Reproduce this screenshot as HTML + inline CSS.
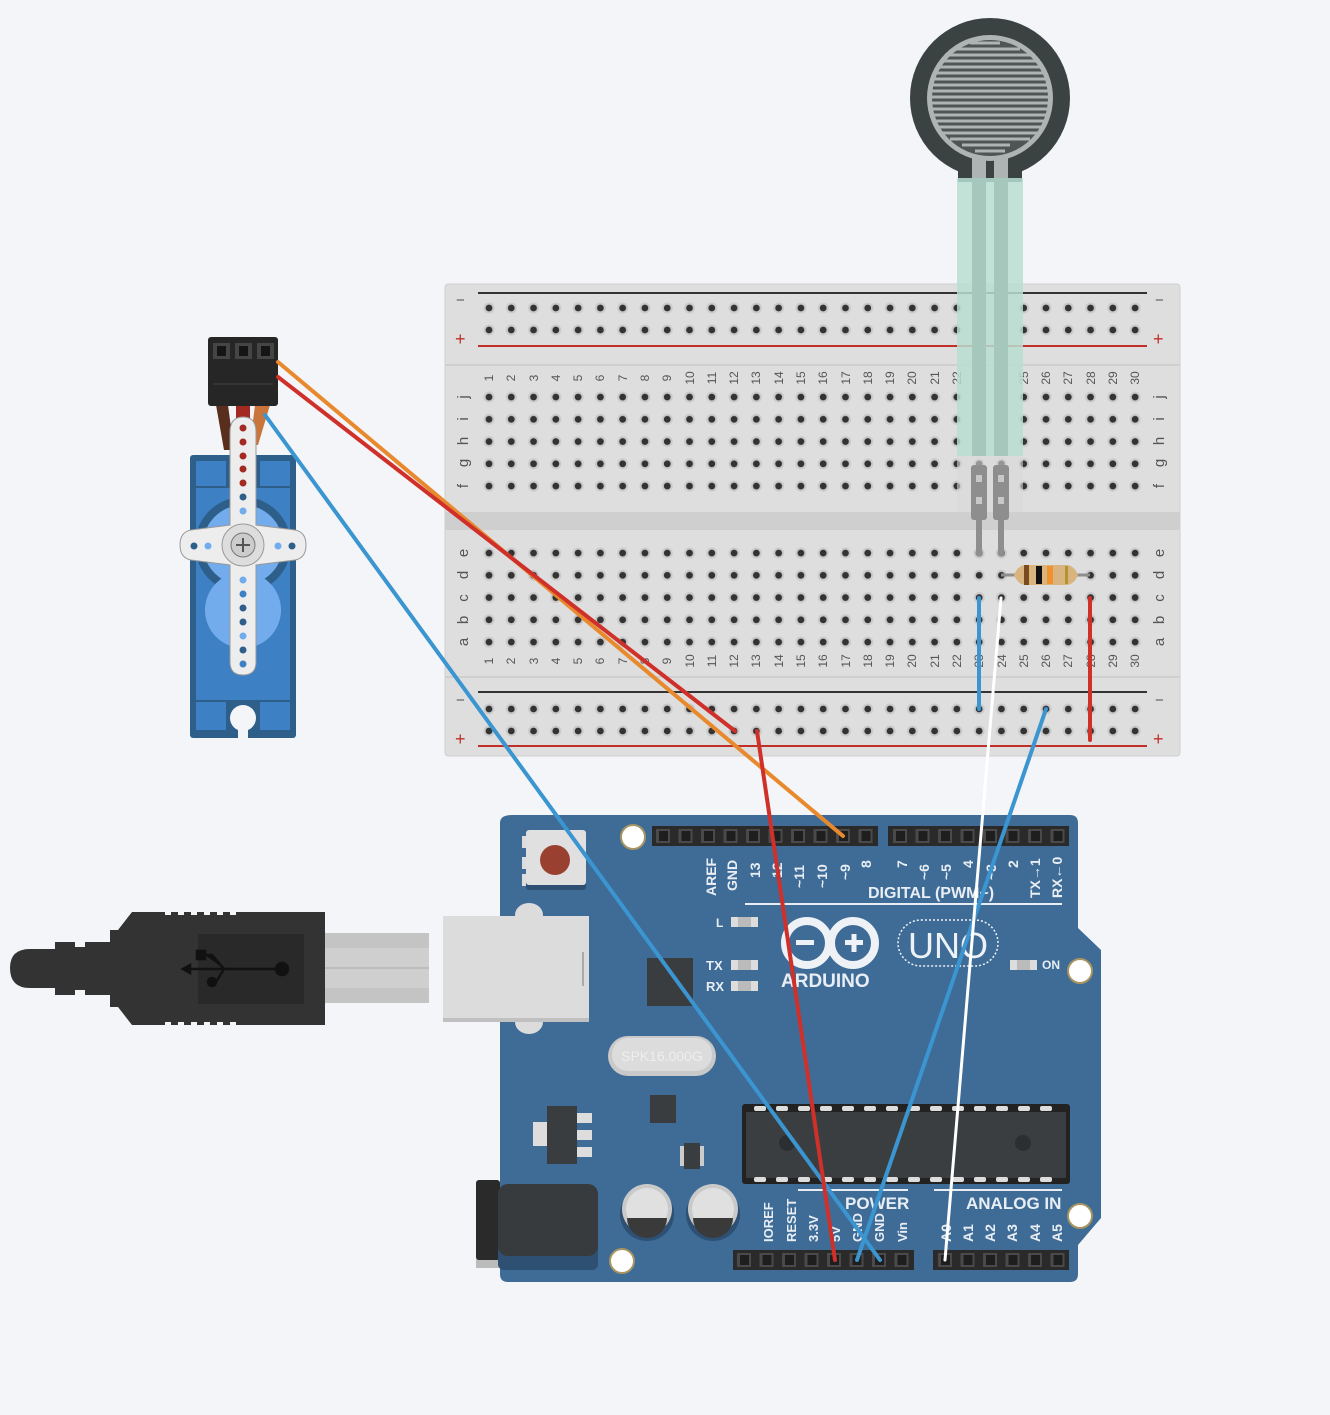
<!DOCTYPE html>
<html><head><meta charset="utf-8"><style>
html,body{margin:0;padding:0;background:#f3f5f8;}
svg{display:block;font-family:"Liberation Sans",sans-serif;}
</style></head><body>
<svg width="1330" height="1415" viewBox="0 0 1330 1415" xmlns="http://www.w3.org/2000/svg">
<defs>
<pattern id="h5" x="477.86" y="386" width="22.28" height="22.25" patternUnits="userSpaceOnUse"><circle cx="11.14" cy="11.1" r="5.5" fill="#cacaca"/><circle cx="11.14" cy="11.1" r="3.4" fill="#333"/></pattern>
<pattern id="h5b" x="477.86" y="542" width="22.28" height="22.25" patternUnits="userSpaceOnUse"><circle cx="11.14" cy="11.1" r="5.5" fill="#cacaca"/><circle cx="11.14" cy="11.1" r="3.4" fill="#333"/></pattern>
<pattern id="hr1" x="477.86" y="297" width="22.28" height="22" patternUnits="userSpaceOnUse"><circle cx="11.14" cy="11" r="5.5" fill="#cacaca"/><circle cx="11.14" cy="11" r="3.4" fill="#333"/></pattern>
<pattern id="hr2" x="477.86" y="698" width="22.28" height="22" patternUnits="userSpaceOnUse"><circle cx="11.14" cy="11" r="5.5" fill="#cacaca"/><circle cx="11.14" cy="11" r="3.4" fill="#333"/></pattern>
<pattern id="pin" x="652" y="826" width="22.5" height="20" patternUnits="userSpaceOnUse"><rect x="4" y="3" width="14" height="14" fill="#4a4a4a"/><rect x="7" y="5" width="9" height="10" fill="#1e1e1e"/></pattern>
<pattern id="pin2" x="889" y="826" width="22.5" height="20" patternUnits="userSpaceOnUse"><rect x="4" y="3" width="14" height="14" fill="#4a4a4a"/><rect x="7" y="5" width="9" height="10" fill="#1e1e1e"/></pattern>
<pattern id="pinb" x="733" y="1250" width="22.5" height="20" patternUnits="userSpaceOnUse"><rect x="4" y="3" width="14" height="14" fill="#4a4a4a"/><rect x="7" y="5" width="9" height="10" fill="#1e1e1e"/></pattern>
<pattern id="pinb2" x="934" y="1250" width="22.5" height="20" patternUnits="userSpaceOnUse"><rect x="4" y="3" width="14" height="14" fill="#4a4a4a"/><rect x="7" y="5" width="9" height="10" fill="#1e1e1e"/></pattern>
</defs>

<!-- Breadboard -->
<rect x="445" y="284" width="735" height="472" rx="3" fill="#dedede" stroke="#d0d0d0"/>
<rect x="445" y="364" width="735" height="2" fill="#cfcfcf"/>
<rect x="445" y="512" width="735" height="18" fill="#cfcfcf"/>
<rect x="445" y="676" width="735" height="2" fill="#cfcfcf"/>
<line x1="478" y1="293" x2="1147" y2="293" stroke="#333" stroke-width="2"/>
<line x1="478" y1="346" x2="1147" y2="346" stroke="#c0302a" stroke-width="2"/>
<line x1="478" y1="692" x2="1147" y2="692" stroke="#333" stroke-width="2"/>
<line x1="478" y1="746" x2="1147" y2="746" stroke="#c0302a" stroke-width="2"/>
<rect x="478" y="297" width="668" height="44" fill="url(#hr1)"/>
<rect x="478" y="698" width="668" height="44" fill="url(#hr2)"/>
<rect x="478" y="386" width="668" height="111" fill="url(#h5)"/>
<rect x="478" y="542" width="668" height="111" fill="url(#h5b)"/>
<g font-size="15" fill="#555"><text x="456" y="305">−</text><text x="1155" y="305">−</text><text x="455" y="345" fill="#c0302a" font-size="18">+</text><text x="1153" y="345" fill="#c0302a" font-size="18">+</text>
<text x="456" y="705">−</text><text x="1155" y="705">−</text><text x="455" y="745" fill="#c0302a" font-size="18">+</text><text x="1153" y="745" fill="#c0302a" font-size="18">+</text></g>
<g font-size="12" fill="#555" text-anchor="middle">
<g>
<text transform="translate(493,378) rotate(-90)">1</text><text transform="translate(515,378) rotate(-90)">2</text><text transform="translate(538,378) rotate(-90)">3</text><text transform="translate(560,378) rotate(-90)">4</text><text transform="translate(582,378) rotate(-90)">5</text><text transform="translate(604,378) rotate(-90)">6</text><text transform="translate(627,378) rotate(-90)">7</text><text transform="translate(649,378) rotate(-90)">8</text><text transform="translate(671,378) rotate(-90)">9</text><text transform="translate(694,378) rotate(-90)">10</text><text transform="translate(716,378) rotate(-90)">11</text><text transform="translate(738,378) rotate(-90)">12</text><text transform="translate(760,378) rotate(-90)">13</text><text transform="translate(783,378) rotate(-90)">14</text><text transform="translate(805,378) rotate(-90)">15</text><text transform="translate(827,378) rotate(-90)">16</text><text transform="translate(850,378) rotate(-90)">17</text><text transform="translate(872,378) rotate(-90)">18</text><text transform="translate(894,378) rotate(-90)">19</text><text transform="translate(916,378) rotate(-90)">20</text><text transform="translate(939,378) rotate(-90)">21</text><text transform="translate(961,378) rotate(-90)">22</text><text transform="translate(983,378) rotate(-90)">23</text><text transform="translate(1006,378) rotate(-90)">24</text><text transform="translate(1028,378) rotate(-90)">25</text><text transform="translate(1050,378) rotate(-90)">26</text><text transform="translate(1072,378) rotate(-90)">27</text><text transform="translate(1095,378) rotate(-90)">28</text><text transform="translate(1117,378) rotate(-90)">29</text><text transform="translate(1139,378) rotate(-90)">30</text>
</g>
<g>
<text transform="translate(493,661) rotate(-90)">1</text><text transform="translate(515,661) rotate(-90)">2</text><text transform="translate(538,661) rotate(-90)">3</text><text transform="translate(560,661) rotate(-90)">4</text><text transform="translate(582,661) rotate(-90)">5</text><text transform="translate(604,661) rotate(-90)">6</text><text transform="translate(627,661) rotate(-90)">7</text><text transform="translate(649,661) rotate(-90)">8</text><text transform="translate(671,661) rotate(-90)">9</text><text transform="translate(694,661) rotate(-90)">10</text><text transform="translate(716,661) rotate(-90)">11</text><text transform="translate(738,661) rotate(-90)">12</text><text transform="translate(760,661) rotate(-90)">13</text><text transform="translate(783,661) rotate(-90)">14</text><text transform="translate(805,661) rotate(-90)">15</text><text transform="translate(827,661) rotate(-90)">16</text><text transform="translate(850,661) rotate(-90)">17</text><text transform="translate(872,661) rotate(-90)">18</text><text transform="translate(894,661) rotate(-90)">19</text><text transform="translate(916,661) rotate(-90)">20</text><text transform="translate(939,661) rotate(-90)">21</text><text transform="translate(961,661) rotate(-90)">22</text><text transform="translate(983,661) rotate(-90)">23</text><text transform="translate(1006,661) rotate(-90)">24</text><text transform="translate(1028,661) rotate(-90)">25</text><text transform="translate(1050,661) rotate(-90)">26</text><text transform="translate(1072,661) rotate(-90)">27</text><text transform="translate(1095,661) rotate(-90)">28</text><text transform="translate(1117,661) rotate(-90)">29</text><text transform="translate(1139,661) rotate(-90)">30</text>
</g>
<g font-size="15">
<text transform="translate(468,397) rotate(-90)">j</text><text transform="translate(468,419) rotate(-90)">i</text><text transform="translate(468,441) rotate(-90)">h</text><text transform="translate(468,463) rotate(-90)">g</text><text transform="translate(468,486) rotate(-90)">f</text>
<text transform="translate(1164,397) rotate(-90)">j</text><text transform="translate(1164,419) rotate(-90)">i</text><text transform="translate(1164,441) rotate(-90)">h</text><text transform="translate(1164,463) rotate(-90)">g</text><text transform="translate(1164,486) rotate(-90)">f</text>
<text transform="translate(468,553) rotate(-90)">e</text><text transform="translate(468,575) rotate(-90)">d</text><text transform="translate(468,598) rotate(-90)">c</text><text transform="translate(468,620) rotate(-90)">b</text><text transform="translate(468,642) rotate(-90)">a</text>
<text transform="translate(1164,553) rotate(-90)">e</text><text transform="translate(1164,575) rotate(-90)">d</text><text transform="translate(1164,598) rotate(-90)">c</text><text transform="translate(1164,620) rotate(-90)">b</text><text transform="translate(1164,642) rotate(-90)">a</text>
</g>
</g>

<!-- FSR -->
<rect x="958" y="140" width="64" height="42" fill="#3a4242"/>
<circle cx="990" cy="98" r="80" fill="#3a4242"/>
<circle cx="990" cy="98" r="63" fill="#aeb3b3"/>
<circle cx="990" cy="98" r="58" fill="#4d5555"/>
<g stroke="#aeb3b3" stroke-width="3">
<line x1="970" y1="43" x2="1000" y2="43"/><line x1="955" y1="49" x2="1020" y2="49"/><line x1="945" y1="55" x2="1035" y2="55"/><line x1="940" y1="61" x2="1040" y2="61"/><line x1="936" y1="67" x2="1044" y2="67"/><line x1="934" y1="73" x2="1046" y2="73"/><line x1="933" y1="79" x2="1047" y2="79"/><line x1="932" y1="85" x2="1048" y2="85"/><line x1="932" y1="91" x2="1048" y2="91"/><line x1="932" y1="97" x2="1048" y2="97"/><line x1="932" y1="103" x2="1048" y2="103"/><line x1="932" y1="109" x2="1048" y2="109"/><line x1="933" y1="115" x2="1047" y2="115"/><line x1="935" y1="121" x2="1045" y2="121"/><line x1="938" y1="127" x2="1042" y2="127"/><line x1="942" y1="133" x2="1038" y2="133"/><line x1="950" y1="139" x2="1030" y2="139"/><line x1="962" y1="145" x2="1010" y2="145"/><line x1="975" y1="151" x2="1005" y2="151"/>
</g>
<rect x="972" y="158" width="14" height="24" fill="#aeb3b3"/><rect x="994" y="158" width="14" height="24" fill="#aeb3b3"/>
<rect x="957" y="178" width="66" height="278" fill="#b9ddd1" opacity="0.85"/>
<rect x="972" y="178" width="14" height="278" fill="#a5c7bc"/><rect x="994" y="178" width="14" height="278" fill="#a5c7bc"/>
<rect x="957" y="456" width="66" height="56" fill="#d8d8d8" opacity="0.6"/>
<rect x="971" y="465" width="16" height="55" rx="3" fill="#8e8e8e"/><rect x="993" y="465" width="16" height="55" rx="3" fill="#8e8e8e"/>
<rect x="976" y="475" width="6" height="7" fill="#c8c8c8"/><rect x="976" y="497" width="6" height="7" fill="#c8c8c8"/>
<rect x="998" y="475" width="6" height="7" fill="#c8c8c8"/><rect x="998" y="497" width="6" height="7" fill="#c8c8c8"/>
<rect x="976" y="518" width="6" height="35" fill="#8e8e8e"/><rect x="998" y="518" width="6" height="35" fill="#8e8e8e"/>
<circle cx="979" cy="553" r="3.5" fill="#8e8e8e"/><circle cx="1001" cy="553" r="3.5" fill="#8e8e8e"/>

<!-- resistor -->
<line x1="1001" y1="575" x2="1090" y2="575" stroke="#8e8e8e" stroke-width="3"/>
<path d="M1014 575 Q1018 565 1026 565 L1066 565 Q1074 565 1078 575 Q1074 585 1066 585 L1026 585 Q1018 585 1014 575Z" fill="#d9b47f"/>
<rect x="1024" y="565" width="5" height="20" fill="#7b4a1e"/><rect x="1036" y="566" width="6" height="18" fill="#111"/><rect x="1047" y="566" width="6" height="18" fill="#f0922e"/><rect x="1065" y="566" width="3" height="18" fill="#b09530"/>

<!-- short wires -->
<line x1="979" y1="598" x2="979" y2="709" stroke="#3a95d0" stroke-width="4" stroke-linecap="round"/>
<line x1="1090" y1="598" x2="1090" y2="740" stroke="#d0302a" stroke-width="4" stroke-linecap="round"/>

<!-- Arduino -->
<path d="M512 815 L1070 815 Q1078 815 1078 823 L1078 928 L1101 950 L1101 1218 L1078 1245 L1078 1274 Q1078 1282 1070 1282 L508 1282 Q500 1282 500 1274 L500 823 Q500 815 512 815Z" fill="#3f6c97"/>
<rect x="652" y="826" width="226" height="20" fill="#2a2a2a"/><rect x="652" y="826" width="226" height="20" fill="url(#pin)"/>
<rect x="888" y="826" width="181" height="20" fill="#2a2a2a"/><rect x="888" y="826" width="181" height="20" fill="url(#pin2)"/>
<rect x="733" y="1250" width="181" height="20" fill="#2a2a2a"/><rect x="733" y="1250" width="181" height="20" fill="url(#pinb)"/>
<rect x="933" y="1250" width="136" height="20" fill="#2a2a2a"/><rect x="933" y="1250" width="136" height="20" fill="url(#pinb2)"/>
<g fill="#fff" stroke="#a89460" stroke-width="2"><circle cx="633" cy="837" r="12"/><circle cx="1080" cy="971" r="12"/><circle cx="1080" cy="1216" r="12"/><circle cx="622" cy="1261" r="12"/></g>
<!-- reset button -->
<rect x="522" y="836" width="8" height="12" fill="#ddd"/><rect x="522" y="857" width="8" height="12" fill="#ddd"/><rect x="522" y="874" width="8" height="12" fill="#ddd"/>
<rect x="578" y="836" width="8" height="12" fill="#ddd"/><rect x="578" y="874" width="8" height="12" fill="#ddd"/>
<rect x="526" y="830" width="60" height="60" rx="3" fill="#2e5073"/>
<rect x="526" y="830" width="60" height="55" rx="3" fill="#e0e0e0"/>
<circle cx="555" cy="860" r="15" fill="#9a4030"/>
<!-- pin labels -->
<g fill="#e8eef4" font-size="14" font-weight="bold" text-anchor="start">
<text transform="translate(716,896) rotate(-90)">AREF</text><text transform="translate(737,891) rotate(-90)">GND</text><text transform="translate(760,878) rotate(-90)">13</text><text transform="translate(782,878) rotate(-90)">12</text><text transform="translate(804,888) rotate(-90)">~11</text><text transform="translate(827,888) rotate(-90)">~10</text><text transform="translate(850,880) rotate(-90)">~9</text><text transform="translate(871,868) rotate(-90)">8</text>
<text transform="translate(907,868) rotate(-90)">7</text><text transform="translate(929,880) rotate(-90)">~6</text><text transform="translate(951,880) rotate(-90)">~5</text><text transform="translate(973,868) rotate(-90)">4</text><text transform="translate(996,880) rotate(-90)">~3</text><text transform="translate(1018,868) rotate(-90)">2</text><text transform="translate(1040,898) rotate(-90)">TX→1</text><text transform="translate(1062,898) rotate(-90)">RX←0</text>
<text x="868" y="898" font-size="16">DIGITAL (PWM~)</text>
<text transform="translate(773,1242) rotate(-90)" font-size="13">IOREF</text><text transform="translate(796,1242) rotate(-90)" font-size="13">RESET</text><text transform="translate(818,1242) rotate(-90)" font-size="13">3.3V</text><text transform="translate(840,1242) rotate(-90)" font-size="13">5V</text><text transform="translate(862,1242) rotate(-90)" font-size="13">GND</text><text transform="translate(884,1242) rotate(-90)" font-size="13">GND</text><text transform="translate(907,1242) rotate(-90)" font-size="13">Vin</text>
<text transform="translate(951,1242) rotate(-90)">A0</text><text transform="translate(973,1242) rotate(-90)">A1</text><text transform="translate(995,1242) rotate(-90)">A2</text><text transform="translate(1017,1242) rotate(-90)">A3</text><text transform="translate(1040,1242) rotate(-90)">A4</text><text transform="translate(1062,1242) rotate(-90)">A5</text>
<text x="845" y="1209" font-size="17">POWER</text><text x="966" y="1209" font-size="17">ANALOG IN</text>
<text x="716" y="927" font-size="12">L</text><text x="706" y="970" font-size="13">TX</text><text x="706" y="991" font-size="13">RX</text><text x="1042" y="969" font-size="12">ON</text>
<text x="781" y="987" font-size="19">ARDUINO</text>
</g>
<line x1="745" y1="904" x2="1062" y2="904" stroke="#e8eef4" stroke-width="2"/>
<line x1="798" y1="1190" x2="908" y2="1190" stroke="#e8eef4" stroke-width="2"/>
<line x1="934" y1="1190" x2="1062" y2="1190" stroke="#e8eef4" stroke-width="2"/>
<g><rect x="731" y="917" width="27" height="10" fill="#ddd"/><rect x="738" y="917" width="13" height="10" fill="#bbb"/>
<rect x="731" y="960" width="27" height="10" fill="#ddd"/><rect x="738" y="960" width="13" height="10" fill="#bbb"/>
<rect x="731" y="981" width="27" height="10" fill="#ddd"/><rect x="738" y="981" width="13" height="10" fill="#bbb"/>
<rect x="1010" y="960" width="27" height="10" fill="#ddd"/><rect x="1017" y="960" width="13" height="10" fill="#bbb"/></g>
<!-- logo -->
<g fill="none" stroke="#eef2f6" stroke-width="8"><circle cx="807" cy="943" r="22"/><circle cx="853" cy="943" r="22"/></g>
<rect x="796" y="940" width="18" height="5" fill="#eef2f6"/><rect x="845" y="940" width="18" height="5" fill="#eef2f6"/><rect x="851.5" y="934" width="5" height="18" fill="#eef2f6"/>
<rect x="898" y="920" width="100" height="46" rx="23" fill="none" stroke="#eef2f6" stroke-width="1.5" stroke-dasharray="2 2"/>
<text x="948" y="958" text-anchor="middle" fill="#eef2f6" font-size="36">UNO</text>
<!-- chips -->
<rect x="647" y="958" width="46" height="48" fill="#3a3d40"/>
<rect x="650" y="1095" width="26" height="28" fill="#3a3d40"/>
<rect x="680" y="1146" width="4" height="20" fill="#ccc"/><rect x="700" y="1146" width="4" height="20" fill="#ccc"/><rect x="684" y="1143" width="16" height="26" fill="#3a3d40"/>
<rect x="533" y="1122" width="16" height="24" fill="#ddd"/><rect x="577" y="1113" width="15" height="10" fill="#ddd"/><rect x="577" y="1130" width="15" height="10" fill="#ddd"/><rect x="577" y="1147" width="15" height="10" fill="#ddd"/><rect x="547" y="1106" width="30" height="58" fill="#3a3d40"/>
<rect x="742" y="1104" width="328" height="80" rx="3" fill="#222"/><rect x="746" y="1112" width="320" height="66" fill="#3b3e41"/>
<g fill="#ddd"><rect x="754" y="1106" width="12" height="5" rx="2"/><rect x="776" y="1106" width="12" height="5" rx="2"/><rect x="798" y="1106" width="12" height="5" rx="2"/><rect x="820" y="1106" width="12" height="5" rx="2"/><rect x="842" y="1106" width="12" height="5" rx="2"/><rect x="864" y="1106" width="12" height="5" rx="2"/><rect x="886" y="1106" width="12" height="5" rx="2"/><rect x="908" y="1106" width="12" height="5" rx="2"/><rect x="930" y="1106" width="12" height="5" rx="2"/><rect x="952" y="1106" width="12" height="5" rx="2"/><rect x="974" y="1106" width="12" height="5" rx="2"/><rect x="996" y="1106" width="12" height="5" rx="2"/><rect x="1018" y="1106" width="12" height="5" rx="2"/><rect x="1040" y="1106" width="12" height="5" rx="2"/>
<rect x="754" y="1177" width="12" height="5" rx="2"/><rect x="776" y="1177" width="12" height="5" rx="2"/><rect x="798" y="1177" width="12" height="5" rx="2"/><rect x="820" y="1177" width="12" height="5" rx="2"/><rect x="842" y="1177" width="12" height="5" rx="2"/><rect x="864" y="1177" width="12" height="5" rx="2"/><rect x="886" y="1177" width="12" height="5" rx="2"/><rect x="908" y="1177" width="12" height="5" rx="2"/><rect x="930" y="1177" width="12" height="5" rx="2"/><rect x="952" y="1177" width="12" height="5" rx="2"/><rect x="974" y="1177" width="12" height="5" rx="2"/><rect x="996" y="1177" width="12" height="5" rx="2"/><rect x="1018" y="1177" width="12" height="5" rx="2"/><rect x="1040" y="1177" width="12" height="5" rx="2"/></g>
<circle cx="787" cy="1143" r="8" fill="#2c2f31"/><circle cx="1023" cy="1143" r="8" fill="#2c2f31"/>
<!-- crystal -->
<rect x="608" y="1036" width="108" height="40" rx="20" fill="#c9c9c9"/><rect x="612" y="1038" width="100" height="33" rx="16" fill="#dcdcdc"/>
<text x="662" y="1061" text-anchor="middle" fill="#eee" font-size="14">SPK16.000G</text>
<!-- capacitors -->
<circle cx="647" cy="1214" r="27" fill="#2e5073"/><circle cx="647" cy="1209" r="25" fill="#c9c9c9"/><circle cx="647" cy="1209" r="21" fill="#e0e0e0"/><path d="M627 1218 L667 1218 A20 20 0 0 1 627 1218Z" fill="#3a3a3a"/>
<circle cx="713" cy="1214" r="27" fill="#2e5073"/><circle cx="713" cy="1209" r="25" fill="#c9c9c9"/><circle cx="713" cy="1209" r="21" fill="#e0e0e0"/><path d="M693 1218 L733 1218 A20 20 0 0 1 693 1218Z" fill="#3a3a3a"/>
<!-- power jack -->
<rect x="476" y="1186" width="24" height="82" fill="#bbb"/>
<rect x="476" y="1180" width="24" height="80" rx="3" fill="#2a2a2a"/>
<rect x="498" y="1190" width="100" height="80" rx="6" fill="#2e5073"/>
<rect x="498" y="1184" width="100" height="72" rx="10" fill="#383b3e"/>
<!-- USB port -->
<ellipse cx="529" cy="915" rx="14" ry="12" fill="#dcdcdc"/><ellipse cx="529" cy="1022" rx="14" ry="12" fill="#dcdcdc"/>
<rect x="443" y="916" width="146" height="106" fill="#c0c0c0"/><rect x="443" y="916" width="146" height="102" fill="#dcdcdc"/>
<rect x="582" y="952" width="2" height="34" fill="#aaa"/>
<!-- USB cable -->
<rect x="325" y="933" width="104" height="70" fill="#c4c4c4"/><rect x="325" y="948" width="104" height="40" fill="#cfcfcf"/><line x1="325" y1="968" x2="429" y2="968" stroke="#aaa"/>
<path d="M10 968 Q10 949 30 949 L55 949 L55 942 L75 942 L75 947 L85 947 L85 942 L110 942 L110 930 L118 930 L132 912 L325 912 L325 1025 L132 1025 L118 1007 L110 1007 L110 995 L85 995 L85 990 L75 990 L75 995 L55 995 L55 988 L30 988 Q10 988 10 968Z" fill="#333"/>
<rect x="198" y="934" width="106" height="70" fill="#292929"/>
<g stroke="#111" stroke-width="2.5" fill="#111"><line x1="188" y1="969" x2="282" y2="969"/><circle cx="282" cy="969" r="6"/><circle cx="212" cy="982" r="4"/><rect x="197" y="951" width="8" height="8"/><path d="M205 955 L212 955 L224 969"/><path d="M216 982 L224 969"/><path d="M183 969 L190 965 L190 973Z"/></g>
<g fill="#f3f5f8"><rect x="165" y="912" width="6" height="3"/><rect x="178" y="912" width="6" height="3"/><rect x="191" y="912" width="6" height="3"/><rect x="204" y="912" width="6" height="3"/><rect x="217" y="912" width="6" height="3"/><rect x="230" y="912" width="6" height="3"/><rect x="165" y="1022" width="6" height="3"/><rect x="178" y="1022" width="6" height="3"/><rect x="191" y="1022" width="6" height="3"/><rect x="204" y="1022" width="6" height="3"/><rect x="217" y="1022" width="6" height="3"/><rect x="230" y="1022" width="6" height="3"/></g>

<!-- Servo -->
<rect x="190" y="455" width="106" height="283" rx="3" fill="#2d5f8a"/>
<rect x="196" y="488" width="94" height="212" fill="#3d80c4"/>
<rect x="196" y="461" width="30" height="25" fill="#3d80c4"/><rect x="260" y="461" width="30" height="25" fill="#3d80c4"/>
<rect x="196" y="702" width="30" height="28" fill="#3d80c4"/><rect x="260" y="702" width="30" height="28" fill="#3d80c4"/>
<circle cx="243" cy="718" r="13" fill="#f3f5f8"/><rect x="238" y="718" width="10" height="20" fill="#f3f5f8"/>
<circle cx="243" cy="545" r="48" fill="#2d5f8a"/><circle cx="243" cy="545" r="40" fill="#72acec"/><circle cx="243" cy="610" r="38" fill="#72acec"/>
<rect x="236" y="405" width="14" height="20" fill="#a22a22"/>
<path d="M216 405 L228 405 L234 450 L224 450Z" fill="#5a2e1c"/>
<path d="M255 405 L270 405 L258 445 L250 445Z" fill="#c9743a"/>
<rect x="208" y="337" width="70" height="69" rx="3" fill="#262626"/>
<g fill="#454545"><rect x="213" y="343" width="17" height="16"/><rect x="235" y="343" width="17" height="16"/><rect x="257" y="343" width="17" height="16"/></g>
<g fill="#151515"><rect x="217" y="346" width="9" height="10"/><rect x="239" y="346" width="9" height="10"/><rect x="261" y="346" width="9" height="10"/></g>
<line x1="213" y1="384" x2="273" y2="384" stroke="#333" stroke-width="2"/>
<path d="M230 432 Q230 417 243 417 Q256 417 256 432 L256 525 L295 530 Q306 532 306 545 Q306 558 295 560 L256 565 L256 662 Q256 675 243 675 Q230 675 230 662 L230 565 L191 560 Q180 558 180 545 Q180 532 191 530 L230 525Z" fill="#ededed" stroke="#999" stroke-width="1"/>
<circle cx="243" cy="545" r="21" fill="#ddd" stroke="#999"/><circle cx="243" cy="545" r="12" fill="#ccc" stroke="#777"/>
<path d="M243 538 V552 M236 545 H250" stroke="#555" stroke-width="2"/>
<g fill="#a22a22"><circle cx="243" cy="428" r="3.5"/><circle cx="243" cy="442" r="3.5"/><circle cx="243" cy="456" r="3.5"/><circle cx="243" cy="469" r="3.5"/><circle cx="243" cy="483" r="3.5"/></g>
<g fill="#2d5f8a"><circle cx="243" cy="497" r="3.5"/><circle cx="194" cy="546" r="3.5"/><circle cx="292" cy="546" r="3.5"/><circle cx="243" cy="608" r="3.5"/><circle cx="243" cy="622" r="3.5"/><circle cx="243" cy="650" r="3.5"/></g>
<g fill="#72acec"><circle cx="243" cy="511" r="3.5"/><circle cx="208" cy="546" r="3.5"/><circle cx="278" cy="546" r="3.5"/><circle cx="243" cy="580" r="3.5"/><circle cx="243" cy="636" r="3.5"/></g>
<g fill="#3d80c4"><circle cx="243" cy="594" r="3.5"/><circle cx="243" cy="664" r="3.5"/></g>

<!-- long wires -->
<g stroke-width="4" stroke-linecap="round" fill="none">
<line x1="278" y1="362" x2="843" y2="836" stroke="#e8892e"/>
<line x1="278" y1="377" x2="735" y2="731" stroke="#d0302a"/>
<line x1="265" y1="415" x2="880" y2="1260" stroke="#3a95d0"/>
<line x1="757" y1="731" x2="835" y2="1260" stroke="#d0302a"/>
<line x1="1046" y1="709" x2="857" y2="1260" stroke="#3a95d0"/>
<line x1="1001" y1="598" x2="945" y2="1260" stroke="#ffffff" stroke-width="3"/>
</g>
</svg>
</body></html>
